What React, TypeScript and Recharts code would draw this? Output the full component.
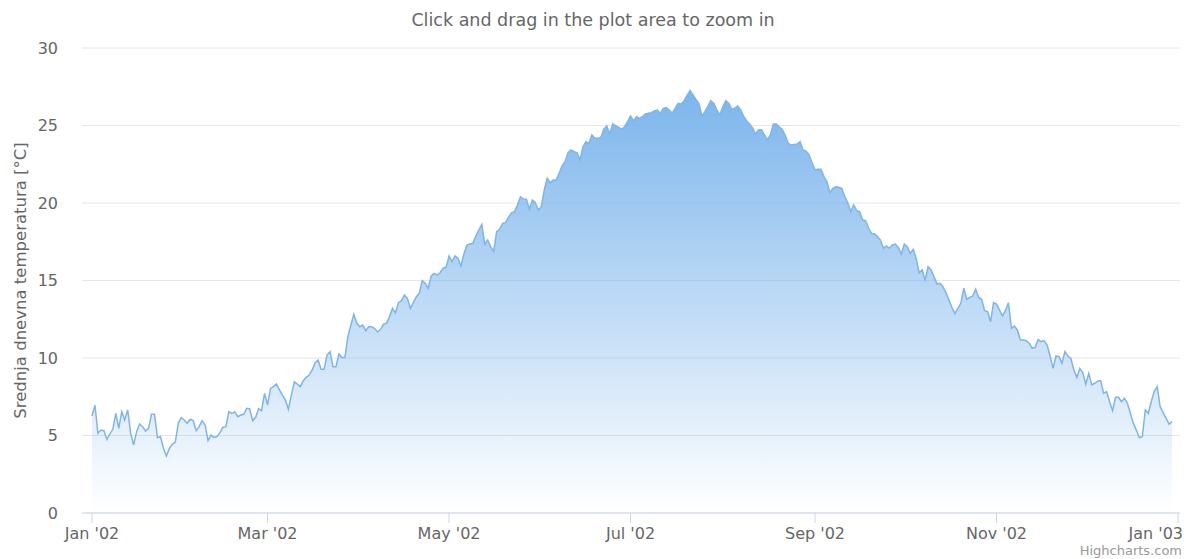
import React from 'react';
import { AreaChart, Area, XAxis, YAxis, CartesianGrid } from 'recharts';

const FONT = '"DejaVu Sans", sans-serif';
const W = 1186;
const H = 559;

const subtitle = 'Click and drag in the plot area to zoom in';
const yAxisTitle = 'Srednja dnevna temperatura [°C]';
const credits = 'Highcharts.com';

// day-of-year (0 = 1 Jan 2002) for each x-axis tick, and its label
const monthTickDays = [0, 59, 120, 181, 243, 304, 365];
const monthTickLabels = ["Jan '02", "Mar '02", "May '02", "Jul '02", "Sep '02", "Nov '02", "Jan '03"];
const yTicks = [0, 5, 10, 15, 20, 25, 30];

// mean daily temperature [°C], one value per day from 1 Jan 2002
const temperatures = [
  6.26, 6.95, 5.14, 5.35, 5.31, 4.75, 5.1, 5.4, 6.43, 5.46,
  6.54, 6.0, 6.65, 5.14, 4.39, 5.25, 5.74, 5.57, 5.29, 5.46,
  6.37, 6.37, 4.86, 4.93, 4.17, 3.68, 4.17, 4.45, 4.58, 5.79,
  6.15, 6.0, 5.79, 6.05, 5.96, 5.31, 5.57, 5.96, 5.68, 4.67,
  5.03, 4.88, 4.93, 5.18, 5.53, 5.57, 6.54, 6.43, 6.52, 6.21,
  6.32, 6.37, 6.75, 6.71, 5.96, 6.17, 6.73, 6.6, 7.72, 6.97,
  8.04, 8.15, 8.32, 7.94, 7.61, 7.29, 6.69, 7.61, 8.47, 8.32,
  8.15, 8.54, 8.75, 8.9, 9.23, 9.7, 9.87, 9.27, 9.27, 10.19,
  10.41, 9.44, 9.44, 10.26, 10.04, 10.04, 11.38, 12.13, 12.82, 12.24,
  12.02, 12.13, 11.76, 12.02, 12.02, 11.9, 11.68, 11.85, 12.19, 12.24,
  12.67, 13.2, 12.92, 13.57, 13.7, 14.06, 13.85, 13.2, 13.57, 13.96,
  14.17, 14.99, 14.82, 14.5, 15.29, 15.46, 15.35, 15.5, 15.79, 15.85,
  16.58, 16.22, 16.58, 16.43, 15.94, 16.71, 17.29, 17.35, 17.4, 17.87,
  18.26, 18.62, 17.35, 17.61, 17.18, 16.86, 18.15, 18.3, 18.69, 18.73,
  19.08, 19.37, 19.44, 19.87, 20.39, 20.25, 20.24, 19.6, 20.19, 20.02,
  19.55, 19.76, 20.84, 21.59, 21.31, 21.48, 21.48, 21.91, 22.39, 22.67,
  23.25, 23.42, 23.31, 23.25, 22.77, 23.63, 23.95, 23.85, 24.39, 24.17,
  24.17, 24.23, 24.75, 24.97, 24.45, 25.1, 24.97, 24.88, 24.75, 24.92,
  25.25, 25.61, 25.31, 25.57, 25.46, 25.57, 25.74, 25.79, 25.83, 25.94,
  26.0, 25.79, 26.11, 26.15, 26.0, 25.79, 26.1, 26.43, 26.39, 26.6,
  26.95, 27.25, 26.97, 26.69, 26.4, 25.61, 25.89, 26.25, 26.6, 26.43,
  26.0, 25.7, 26.21, 26.6, 26.43, 26.05, 26.11, 26.26, 26.0, 25.61,
  25.31, 25.1, 24.85, 24.45, 24.71, 24.72, 24.39, 24.06, 24.39, 25.1,
  25.1, 24.92, 24.75, 24.35, 23.85, 23.74, 23.78, 23.81, 23.96, 23.42,
  23.35, 23.1, 22.6, 22.15, 22.17, 22.17, 21.7, 21.38, 20.67, 20.95,
  21.05, 21.01, 20.95, 20.41, 20.02, 19.44, 19.87, 19.5, 19.44, 18.9,
  18.86, 18.37, 18.04, 18.0, 17.83, 17.61, 17.08, 17.23, 17.08, 17.29,
  17.35, 17.14, 16.71, 17.35, 17.18, 16.75, 17.01, 16.43, 15.5, 15.68,
  15.03, 15.89, 15.68, 15.25, 14.77, 14.82, 14.6, 14.22, 13.74, 13.27,
  12.86, 13.2, 13.53, 14.5, 13.79, 13.91, 14.0, 14.43, 13.91, 13.79,
  13.05, 12.99, 12.34, 13.57, 13.48, 13.1, 12.71, 13.05, 13.57, 11.91,
  12.06, 11.81, 11.16, 11.16, 11.12, 10.95, 10.62, 10.69, 11.2, 11.05,
  11.12, 10.84, 10.13, 9.33, 10.13, 10.09, 9.66, 10.41, 10.13, 9.98,
  9.23, 8.75, 9.33, 9.05, 8.32, 9.01, 8.26, 8.37, 8.5, 8.54,
  7.72, 7.83, 7.18, 6.6, 7.46, 7.46, 7.18, 7.4, 7.08, 6.43,
  5.78, 5.35, 4.86, 4.92, 6.65, 6.43, 7.18, 7.83, 8.15, 6.86,
  6.47, 6.11, 5.74, 5.89,
];

const data = temperatures.map((temp, day) => ({ day, temp }));

function XTick(props: any) {
  const { x, y, payload } = props;
  const i = monthTickDays.indexOf(payload.value);
  const last = i === monthTickDays.length - 1;
  return (
    <text
      x={last ? W - 3 : x}
      y={y}
      dy="0.71em"
      textAnchor={last ? 'end' : 'middle'}
      fill="#666666"
      fontSize={16}
      fontFamily={FONT}
    >
      {monthTickLabels[i]}
    </text>
  );
}

export default function App() {
  return (
    <div style={{ position: 'absolute', left: 0, top: 0, width: W, height: H, background: '#ffffff' }}>
      <AreaChart width={W} height={H} data={data} margin={{ top: 48, right: 6, bottom: 0, left: 0 }}>
        <defs>
          <linearGradient id="tempFill" x1="0" y1="0" x2="0" y2="1">
            <stop offset="0" stopColor="#7cb5ec" stopOpacity={1} />
            <stop offset="1" stopColor="#7cb5ec" stopOpacity={0} />
          </linearGradient>
        </defs>
        <CartesianGrid vertical={false} stroke="#e6e6e6" />
        <XAxis
          dataKey="day"
          type="number"
          domain={[-3.36, 365.67]}
          allowDataOverflow
          ticks={monthTickDays}
          interval={0}
          tick={<XTick />}
          height={46}
          tickSize={10}
          tickMargin={5}
          stroke="#ccd6eb"
        />
        <YAxis
          type="number"
          domain={[0, 30]}
          ticks={yTicks}
          interval={0}
          width={82}
          axisLine={false}
          tickLine={false}
          tickSize={0}
          tickMargin={24}
          tick={{ fill: '#666666', fontSize: 16, fontFamily: FONT }}
        />
        <Area
          type="linear"
          dataKey="temp"
          stroke="#7cb5ec"
          strokeWidth={1.5}
          fill="url(#tempFill)"
          fillOpacity={1}
          dot={false}
          activeDot={false}
          isAnimationActive={false}
        />
      </AreaChart>
      <svg
        width={W}
        height={H}
        style={{ position: 'absolute', left: 0, top: 0, pointerEvents: 'none' }}
      >
        <text x={593} y={26} textAnchor="middle" fill="#666666" fontSize={17.5} fontFamily={FONT}>
          {subtitle}
        </text>
        <text
          transform="translate(26, 280.5) rotate(-90)"
          textAnchor="middle"
          fill="#666666"
          fontSize={16.5}
          fontFamily={FONT}
        >
          {yAxisTitle}
        </text>
        <text x={1182} y={555} textAnchor="end" fill="#999999" fontSize={13} fontFamily={FONT}>
          {credits}
        </text>
      </svg>
    </div>
  );
}
